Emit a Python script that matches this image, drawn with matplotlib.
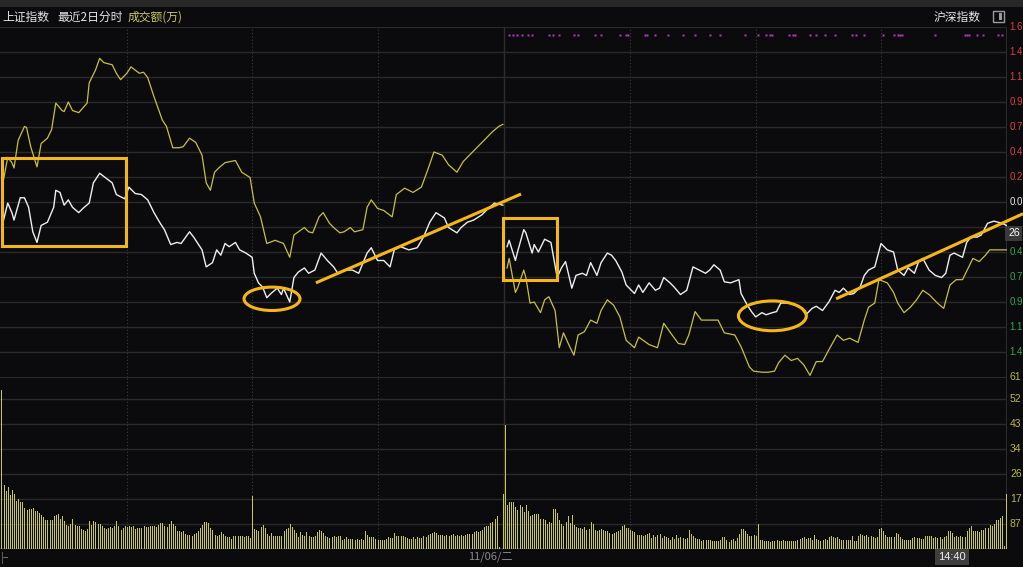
import numpy as np
import matplotlib.pyplot as plt
import matplotlib.transforms as mtransforms
from matplotlib.patches import Rectangle, Ellipse

plt.rcParams['font.family'] = ['Noto Sans CJK SC', 'DejaVu Sans']

# ---- data: % change vs previous close, minute index within each day ----
white_d1_min = [1, 3, 5, 6, 9, 11, 13, 15, 17, 19, 22, 25, 26, 28, 30, 32, 34, 37, 39, 42,
                44, 47, 49, 53, 55, 59, 61, 64, 67, 70, 73, 76, 78, 81, 84, 86, 90, 92, 96, 98,
                101, 103, 105, 107, 109, 112, 114, 117, 120, 121, 123, 125, 127, 129, 132, 134, 135, 138, 140, 142,
                145, 147, 150, 153, 156, 159, 161, 164, 168, 171, 175, 177, 180, 183, 186, 188, 191, 195, 199, 202,
                205, 208, 212, 214, 218, 220, 223, 226, 230, 233, 236, 240]
white_d1 = [-0.17, -0.01, -0.10, -0.17, 0.04, 0.04, -0.05, -0.28, -0.38, -0.22, -0.19, -0.05, 0.11, 0.09, -0.03, 0.02, -0.05, -0.10, -0.06, -0.01,
            0.18, 0.27, 0.24, 0.18, 0.07, 0.03, 0.14, 0.08, 0.07, 0.02, -0.10, -0.20, -0.26, -0.40, -0.38, -0.39, -0.28, -0.33, -0.45, -0.61,
            -0.57, -0.45, -0.50, -0.39, -0.42, -0.38, -0.45, -0.48, -0.52, -0.67, -0.76, -0.80, -0.90, -0.86, -0.81, -0.87, -0.81, -0.94, -0.71, -0.66,
            -0.62, -0.67, -0.64, -0.48, -0.55, -0.61, -0.67, -0.64, -0.64, -0.67, -0.48, -0.43, -0.55, -0.55, -0.61, -0.45, -0.42, -0.45, -0.43, -0.33,
            -0.19, -0.10, -0.15, -0.24, -0.29, -0.24, -0.19, -0.17, -0.12, -0.06, -0.01, -0.03]

yellow_d1_min = [1, 3, 5, 6, 8, 11, 12, 14, 17, 19, 22, 24, 26, 29, 30, 32, 34, 37, 41, 42,
                 45, 47, 49, 53, 55, 57, 60, 62, 66, 68, 70, 73, 77, 79, 82, 85, 87, 90, 93, 96,
                 98, 100, 102, 104, 107, 112, 115, 119, 121, 124, 127, 131, 135, 138, 140, 145, 147, 149, 152, 154,
                 157, 159, 162, 164, 167, 169, 173, 175, 177, 180, 183, 187, 189, 193, 197, 201, 204, 207, 211, 214,
                 218, 221, 225, 230, 235, 238, 240]
yellow_d1 = [0.21, 0.42, 0.37, 0.32, 0.58, 0.71, 0.70, 0.52, 0.33, 0.55, 0.60, 0.68, 0.93, 0.86, 0.85, 0.94, 0.86, 0.84, 0.93, 1.12,
             1.24, 1.35, 1.31, 1.29, 1.21, 1.15, 1.21, 1.27, 1.21, 1.22, 1.17, 0.99, 0.77, 0.71, 0.51, 0.51, 0.52, 0.60, 0.56, 0.44,
             0.18, 0.11, 0.28, 0.32, 0.37, 0.39, 0.28, 0.23, -0.01, -0.14, -0.39, -0.36, -0.39, -0.52, -0.31, -0.24, -0.28, -0.29, -0.14, -0.10,
             -0.20, -0.24, -0.29, -0.28, -0.24, -0.28, -0.26, -0.05, 0.02, -0.06, -0.08, -0.14, 0.07, 0.13, 0.09, 0.14, 0.30, 0.47, 0.44, 0.35,
             0.28, 0.38, 0.46, 0.56, 0.66, 0.71, 0.73]

white_d2_min = [1, 2, 5, 6, 9, 10, 13, 14, 16, 19, 22, 25, 27, 29, 32, 34, 37, 39, 41, 44,
                46, 49, 51, 53, 56, 58, 62, 64, 66, 69, 72, 74, 76, 79, 81, 84, 87, 90, 93, 96,
                98, 100, 103, 105, 108, 112, 113, 116, 118, 120, 123, 125, 128, 130, 132, 136, 139, 142, 144, 147,
                149, 152, 155, 158, 160, 162, 165, 167, 170, 172, 174, 177, 180, 183, 186, 188, 191, 193, 196, 198,
                200, 203, 206, 209, 211, 213, 215, 219, 221, 223, 226, 228, 231, 234, 238, 240]
white_d2 = [-0.42, -0.36, -0.55, -0.47, -0.26, -0.29, -0.48, -0.40, -0.47, -0.35, -0.38, -0.71, -0.62, -0.56, -0.81, -0.69, -0.67, -0.69, -0.57, -0.69,
            -0.57, -0.48, -0.50, -0.55, -0.66, -0.78, -0.86, -0.78, -0.85, -0.76, -0.83, -0.81, -0.71, -0.76, -0.80, -0.87, -0.83, -0.61, -0.64, -0.67,
            -0.64, -0.59, -0.64, -0.75, -0.76, -0.73, -0.86, -0.97, -1.03, -1.08, -1.04, -1.06, -1.04, -1.03, -0.95, -0.95, -0.97, -1.00, -1.06, -1.00,
            -0.98, -1.02, -0.94, -0.83, -0.85, -0.81, -0.87, -0.86, -0.80, -0.69, -0.64, -0.61, -0.39, -0.45, -0.47, -0.64, -0.69, -0.62, -0.67, -0.56,
            -0.53, -0.64, -0.69, -0.71, -0.67, -0.50, -0.48, -0.52, -0.38, -0.33, -0.33, -0.31, -0.20, -0.18, -0.20, -0.22]

yellow_d2_min = [1, 2, 5, 6, 9, 10, 12, 14, 17, 19, 21, 24, 26, 28, 31, 33, 35, 38, 41, 44,
                 46, 49, 52, 55, 58, 62, 64, 69, 73, 76, 80, 83, 86, 88, 91, 94, 98, 102, 105, 110,
                 113, 117, 119, 123, 126, 129, 131, 134, 137, 140, 143, 146, 149, 152, 155, 159, 162, 165, 169, 172,
                 174, 177, 179, 183, 186, 188, 191, 194, 197, 200, 203, 207, 210, 213, 216, 219, 222, 224, 227, 230,
                 232, 236, 240]
yellow_d2 = [-0.62, -0.53, -0.85, -0.81, -0.64, -0.71, -0.95, -0.94, -1.04, -0.92, -0.89, -1.02, -1.37, -1.23, -1.36, -1.44, -1.25, -1.22, -1.11, -1.14,
             -1.02, -0.92, -0.97, -1.08, -1.30, -1.37, -1.27, -1.34, -1.37, -1.14, -1.25, -1.33, -1.34, -1.25, -1.03, -1.11, -1.11, -1.11, -1.23, -1.25,
             -1.36, -1.55, -1.59, -1.60, -1.60, -1.59, -1.51, -1.44, -1.49, -1.47, -1.53, -1.63, -1.50, -1.50, -1.39, -1.25, -1.30, -1.28, -1.32, -1.11,
             -0.99, -0.95, -0.73, -0.76, -0.85, -0.95, -1.04, -0.99, -0.92, -0.83, -0.87, -0.95, -1.00, -0.78, -0.73, -0.73, -0.61, -0.53, -0.56, -0.50,
             -0.45, -0.45, -0.45]

# turnover per minute (万), 241 bars per day
vol_d1 = [556, 225, 204, 217, 190, 208, 192, 167, 176, 163, 163,
          143, 135, 140, 140, 143, 134, 134, 126, 118, 112,
          103, 103, 103, 100, 117, 120, 122, 105, 117, 97,
          85, 82, 89, 105, 85, 82, 79, 71, 68, 62, 70, 97,
          85, 99, 93, 89, 87, 79, 73, 70, 72, 77, 75, 80, 97,
          79, 68, 75, 79, 77, 79, 76, 79, 70, 72, 73,
          73, 79, 77, 77, 79, 80, 80, 77, 85, 92, 91, 79, 77, 89, 98,
          89, 79, 64, 64, 61, 64, 54, 50, 50, 47, 52, 56, 62, 73, 85, 96, 94, 91,
          73, 65, 49, 47, 50, 61, 54, 44, 41, 41, 36, 47, 44, 47, 44, 47, 42, 47, 45, 40, 186,
          71, 68, 62, 77, 85, 73, 54, 47, 56, 47, 47, 47, 47, 47, 62, 70,
          75, 89, 77, 68,
          56, 42, 61, 49, 47, 58, 47, 42, 42, 44, 58, 65, 62, 56, 47, 42, 38, 42, 44, 42, 44, 44,
          33, 35, 41, 36, 36, 35, 33, 36, 33, 36, 33, 62, 50, 42, 41, 42, 35, 33, 33, 30,
          33, 36, 41, 38, 38, 56, 47, 47, 47, 44, 42, 38, 36, 36, 41, 36, 41, 38, 37, 47,
          41, 50, 54, 56, 61, 56, 49, 49, 49, 44, 49, 47, 49, 52, 47, 49, 47, 49, 47, 50,
          52, 52, 52, 61, 64, 61, 63,
          68, 77, 82, 82, 91, 96, 105, 117, 8, 0, 193]
vol_d2 = [433,
          155, 164, 164, 164, 147, 137, 154, 147, 128, 154, 132, 117, 120, 122, 122, 122, 106, 106, 103, 89,
          94, 91, 140, 140, 126, 103, 89, 82, 93, 117, 91, 119, 85, 77, 73, 73, 71, 77, 68, 70,
          96, 89, 68, 62, 65, 71, 65, 62, 64, 56, 54, 56, 59, 62, 65, 79, 85, 73, 72, 65,
          62, 58, 49, 49, 50, 47, 50, 54, 56, 38, 49, 42, 50, 52, 38, 44, 42, 38, 33, 42,
          35, 50, 38, 42, 38, 36, 38, 68, 52, 44, 38, 36, 36, 29, 30, 33, 30, 33, 29, 29,
          29, 29, 33, 42, 42, 33, 26, 30, 35, 29, 38, 52, 70, 70, 62, 52, 44, 47, 50, 44,
          87, 30, 33, 29, 29, 29, 26, 29, 29, 33, 29, 29, 33, 27, 29, 29, 29, 29, 29, 33,
          35, 38, 42, 35, 38, 38, 33, 49, 35, 30, 29, 33, 35, 33, 42, 47, 42, 38, 42, 35,
          33, 33, 33, 33, 33, 44, 29, 29, 47, 52, 49, 47, 49, 42, 44, 42, 38, 42, 70, 73,
          62, 50, 42, 42, 42, 42, 56, 52, 41, 36, 33, 33, 33, 33, 37, 42, 37, 37, 35, 35,
          44, 47, 47, 44, 38, 42, 38, 42, 35, 42, 47, 64, 64, 56, 42, 44, 42, 44, 42, 42,
          64, 73, 82, 64, 64, 64, 58, 68, 68, 73, 73, 85, 82, 89, 100, 100, 108, 117,
          9, 193]

# day-2 minutes with a signal mark at the top
signal_d2_min = [2, 4, 6, 8, 11, 13, 21, 23, 26, 33, 35, 43, 46, 55, 58, 59, 67, 68, 72, 78,
                 85, 91, 98, 103, 115, 121, 125, 127, 128, 136, 138, 139, 146, 149, 153, 158,
                 166, 168, 172, 181, 186, 188, 189, 190, 206, 220, 221, 222, 226, 229, 236, 238]

pct_step = 0.235
vol_step = 87.4

# ---- figure ----
W, H = 1023, 567
BG = '#0b0b0e'
GRID = '#2a2a2a'
fig = plt.figure(figsize=(W / 100, H / 100), dpi=100, facecolor=BG)


def fy(py):
    return 1 - py / H


ax = fig.add_axes([0, fy(377), 1007 / W, 350 / H], facecolor=BG)
axv = fig.add_axes([0, fy(549), 1007 / W, 172 / H], facecolor=BG)

n_day = 241
x1 = np.arange(n_day)
x2 = np.arange(n_day) + n_day

for a in (ax, axv):
    a.set_xlim(-0.7, 2 * n_day - 0.7)
    a.set_xticks([])
    a.set_yticks([])
    for s in a.spines.values():
        s.set_visible(False)
    for xv in (60, 120, 180, 301, 361, 421):
        a.axvline(xv, color='#3c3c3c', lw=0.8, ls=(0, (1, 2)), zorder=1)
    a.axvline(240.5, color='#2e2e2e', lw=1.0, zorder=1)
    a.axvline(2 * n_day - 0.7, color='#333333', lw=1.2, zorder=1)

ax.set_ylim(-7 * pct_step, 7 * pct_step)
for k in range(-6, 7):
    ax.axhline(k * pct_step, color=GRID, lw=1.0, zorder=1)
ax.axhline(7 * pct_step, color=GRID, lw=1.5, zorder=1)

axv.set_ylim(0, 172 / 25 * vol_step)
for k in range(1, 7):
    axv.axhline(k * vol_step, color=GRID, lw=1.0, zorder=1)
axv.axhline(axv.get_ylim()[1], color=GRID, lw=1.5, zorder=1)
axv.axhline(0, color='#3a3a3a', lw=1.2, zorder=1)

# price lines
ax.plot(yellow_d1_min, yellow_d1, color='#c8c040', lw=0.9, zorder=3)
ax.plot(np.array(yellow_d2_min) + n_day, yellow_d2, color='#c8c040', lw=0.9, zorder=3)
ax.plot(white_d1_min, white_d1, color='#eeeeee', lw=1.0, zorder=4)
ax.plot(np.array(white_d2_min) + n_day, white_d2, color='#eeeeee', lw=1.0, zorder=4)

# signal marks
ax.plot(np.array(signal_d2_min) + n_day, [0.977] * len(signal_d2_min), 's', ms=1.7,
        mec='none', color='#b838c0', transform=ax.get_xaxis_transform(), zorder=3)

# volume bars, one pixel wide
axv.vlines(x1, 0, vol_d1, color='#c8c850', lw=0.72, zorder=3, antialiased=False)
axv.vlines(x2, 0, vol_d2, color='#c8c850', lw=0.72, zorder=3, antialiased=False)

# hand-drawn highlights
HL = '#f5b716'
ax.add_patch(Rectangle((0.2, -0.41), 59.4, 0.82, fill=False, ec=HL, lw=2.2, clip_on=False, zorder=6))
ax.add_patch(Rectangle((240, -0.73), 26, 0.58, fill=False, ec=HL, lw=2.2, clip_on=False, zorder=6))
ax.add_patch(Ellipse((129.5, -0.91), 26.8, 0.22, fill=False, ec=HL, lw=2.2, clip_on=False, zorder=6))
ax.add_patch(Ellipse((369, -1.07), 32.5, 0.28, fill=False, ec=HL, lw=2.2, clip_on=False, zorder=6))
ax.plot([150.5, 248.7], [-0.76, 0.075], color=HL, lw=2.2, clip_on=False, zorder=6, solid_capstyle='butt')
ax.plot([399.5, 489], [-0.91, -0.11], color=HL, lw=2.2, clip_on=False, zorder=6, solid_capstyle='butt')

# right-hand scale labels (the narrow margin only shows the leading digits)
tr_p = mtransforms.blended_transform_factory(fig.transFigure, ax.transData)
for k in range(7, -7, -1):
    v = k * pct_step
    if k > 0:
        c = '#d84040'
    elif k == 0:
        c = '#e8e8e8'
    else:
        c = '#2fa84a'
    if k == -1:
        continue
    txt = f"{int(abs(v) * 10) / 10:.1f}"
    ax.text(1009.5 / W, v, txt, color=c, fontsize=7, family='Liberation Sans',
            va='center', ha='left', transform=tr_p, clip_on=False)
ax.text(1008 / W, -1 * pct_step - 0.06, "26", color='white', fontsize=7.5, family='Liberation Sans',
        va='center', ha='left', transform=tr_p, clip_on=False,
        bbox=dict(boxstyle='square,pad=0.25', fc='#3a3a3a', ec='none'))

tr_v = mtransforms.blended_transform_factory(fig.transFigure, axv.transData)
for k in range(1, 8):
    v = k * vol_step
    axv.text(1010 / W, v if k < 7 else axv.get_ylim()[1], str(int(v))[:2], color='#b8b84c', fontsize=7.5,
             family='Liberation Sans', va='center', ha='left', transform=tr_v, clip_on=False)

# title row
fig.patches.append(Rectangle((0, fy(7)), 1, 7 / H, transform=fig.transFigure, fc='#272727', ec='none'))
fig.text(2 / W, fy(17), "上证指数", color='#e6e6e6', fontsize=8.5, va='center')
fig.text(57 / W, fy(17), "最近2日分时", color='#e6e6e6', fontsize=8.5, va='center')
fig.text(128 / W, fy(17), "成交额(万)", color='#c8c864', fontsize=8.5, va='center')
fig.text(934 / W, fy(17), "沪深指数", color='#e6e6e6', fontsize=8.5, va='center')
fig.patches.append(Rectangle((993 / W, fy(22)), 11 / W, 11 / H, transform=fig.transFigure,
                             fc='none', ec='#9a9a9a', lw=1.0))
fig.patches.append(Rectangle((998.5 / W, fy(20)), 3.5 / W, 7 / H, transform=fig.transFigure,
                             fc='#9a9a9a', ec='none'))

# bottom time row
fig.text(0.5 / W, fy(558), "|–", color='#8a8a8a', fontsize=7.5, va='center')
fig.text(490 / W, fy(557), "11/06/二", color='#8a8a8a', fontsize=8, va='center', ha='center')
fig.text(952 / W, fy(557), "14:40", color='#f0f0f0', fontsize=8, va='center', ha='center',
         family='Liberation Sans', bbox=dict(boxstyle='square,pad=0.3', fc='#3e3e3e', ec='none'))

fig.savefig("out.png", dpi=100, facecolor=BG)
